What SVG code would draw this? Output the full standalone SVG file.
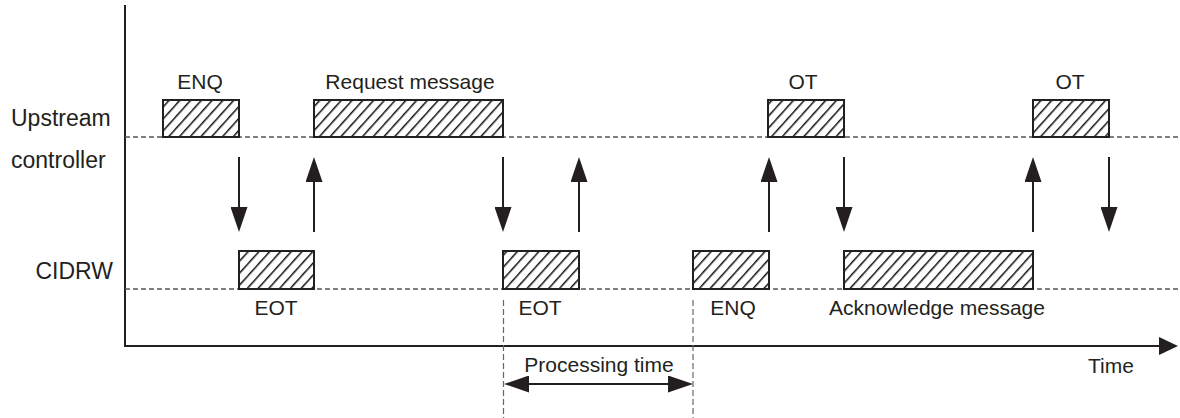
<svg xmlns="http://www.w3.org/2000/svg" width="1180" height="418" viewBox="0 0 1180 418">
  <style>
    .t { font-family: "Liberation Sans", Arial, sans-serif; font-size: 21px; fill: #231f20; }
    .lbl { font-family: "Liberation Sans", Arial, sans-serif; font-size: 23px; fill: #231f20; }
    .box { fill: url(#hatch); stroke: #231f20; stroke-width: 2; }
    .axis { stroke: #231f20; stroke-width: 2; fill: none; }
    .base { stroke: #555; stroke-width: 1.3; stroke-dasharray: 5 3; fill: none; }
    .vdash { stroke: #666; stroke-width: 1.2; stroke-dasharray: 6 3; fill: none; }
    .arr { stroke: #231f20; stroke-width: 2; fill: none; marker-end: url(#head); }
    .dbl { stroke: #231f20; stroke-width: 2; fill: none; marker-start: url(#head); marker-end: url(#head); }
  </style>
  <defs>
    <pattern id="hatch" patternUnits="userSpaceOnUse" width="8" height="8" patternTransform="rotate(42)">
      <rect width="8" height="8" fill="#fff"/>
      <line x1="0.75" y1="0" x2="0.75" y2="8" stroke="#111" stroke-width="1.5"/>
    </pattern>
    <marker id="head" viewBox="0 0 25 17" markerWidth="25" markerHeight="17" refX="15" refY="8.5" orient="auto-start-reverse" markerUnits="userSpaceOnUse">
      <path d="M0,0 L25,8.5 L0,17 z" fill="#231f20"/>
    </marker>
    <marker id="axhead" viewBox="0 0 19 18" markerWidth="19" markerHeight="18" refX="9" refY="9" orient="auto" markerUnits="userSpaceOnUse">
      <path d="M0,0 L19,9 L0,18 z" fill="#231f20"/>
    </marker>
  </defs>

  <g id="axes">
    <line class="axis" x1="125" y1="5" x2="125" y2="347"/>
    <line class="axis" x1="124" y1="346" x2="1168" y2="346" marker-end="url(#axhead)"/>
    <text class="t" x="1111" y="373" text-anchor="middle">Time</text>
  </g>

  <g id="lane-upstream">
    <line class="base" x1="125" y1="137" x2="1180" y2="137"/>
    <text class="lbl" x="11" y="126">Upstream</text>
    <text class="lbl" x="11" y="168">controller</text>
  </g>

  <g id="lane-cidrw">
    <line class="base" x1="125" y1="289" x2="1180" y2="289"/>
    <text class="lbl" x="113" y="279" text-anchor="end">CIDRW</text>
  </g>

  <g id="up-enq">
    <rect class="box" x="163" y="100" width="76" height="37"/>
    <text class="t" x="200" y="89" text-anchor="middle">ENQ</text>
  </g>
  <g id="up-request">
    <rect class="box" x="314" y="100" width="189" height="37"/>
    <text class="t" x="410" y="89" text-anchor="middle">Request message</text>
  </g>
  <g id="up-ot1">
    <rect class="box" x="768" y="100" width="76" height="37"/>
    <text class="t" x="803" y="89" text-anchor="middle">OT</text>
  </g>
  <g id="up-ot2">
    <rect class="box" x="1033" y="100" width="76" height="37"/>
    <text class="t" x="1070" y="89" text-anchor="middle">OT</text>
  </g>

  <g id="cd-eot1">
    <rect class="box" x="239" y="251" width="75" height="38"/>
    <text class="t" x="276" y="315" text-anchor="middle">EOT</text>
  </g>
  <g id="cd-eot2">
    <rect class="box" x="503" y="251" width="76" height="38"/>
    <text class="t" x="540" y="315" text-anchor="middle">EOT</text>
  </g>
  <g id="cd-enq">
    <rect class="box" x="693" y="251" width="76" height="38"/>
    <text class="t" x="733" y="315" text-anchor="middle">ENQ</text>
  </g>
  <g id="cd-ack">
    <rect class="box" x="844" y="251" width="189" height="38"/>
    <text class="t" x="937" y="315" text-anchor="middle">Acknowledge message</text>
  </g>

  <g id="processing-time">
    <line class="vdash" x1="503.5" y1="300" x2="503.5" y2="418"/>
    <line class="vdash" x1="693" y1="300" x2="693" y2="418"/>
    <text class="t" x="599" y="372" text-anchor="middle">Processing time</text>
  </g>

  <g id="connectors">
    <line class="arr" x1="239" y1="157" x2="239" y2="222"/>
    <line class="arr" x1="314" y1="232" x2="314" y2="167"/>
    <line class="arr" x1="503" y1="157" x2="503" y2="222"/>
    <line class="arr" x1="579" y1="232" x2="579" y2="167"/>
    <line class="arr" x1="769" y1="232" x2="769" y2="167"/>
    <line class="arr" x1="844" y1="157" x2="844" y2="222"/>
    <line class="arr" x1="1033" y1="232" x2="1033" y2="167"/>
    <line class="arr" x1="1109" y1="157" x2="1109" y2="222"/>
    <line class="dbl" x1="514" y1="384" x2="683" y2="384"/>
  </g>
</svg>
